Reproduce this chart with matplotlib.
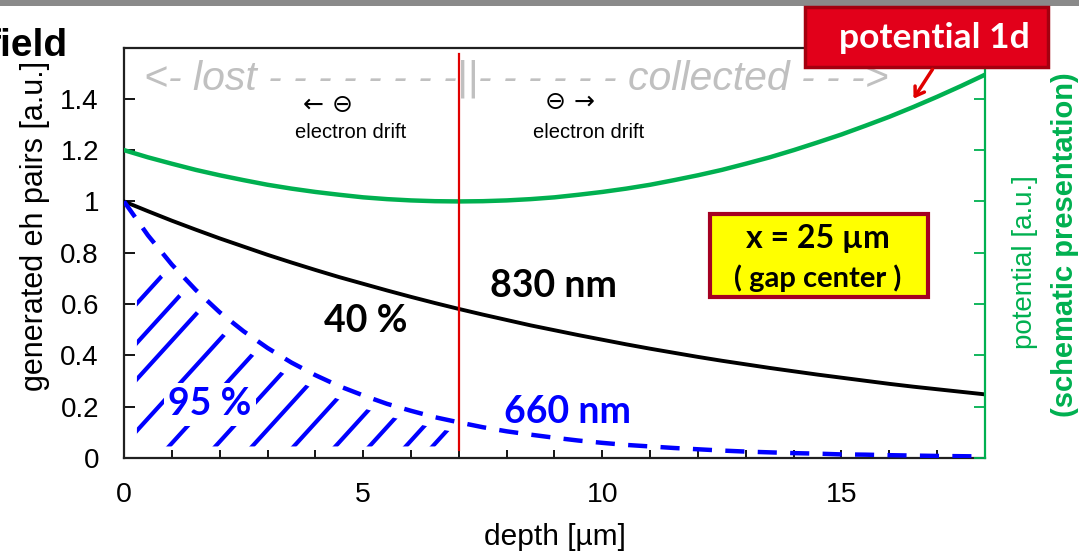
import numpy as np
import matplotlib
matplotlib.use("Agg")
import matplotlib.pyplot as plt
from matplotlib.patches import Polygon, Rectangle, FancyArrowPatch

# ---- data -------------------------------------------------------------
depth = np.arange(0.0, 18.01, 0.5)  # depth grid [um]

# generated eh pairs, 830 nm illumination (normalised)
pairs_830 = [1.000, 0.962, 0.925, 0.890, 0.856, 0.824, 0.792, 0.762, 0.733,
             0.705, 0.679, 0.653, 0.628, 0.604, 0.581, 0.559, 0.538, 0.517,
             0.498, 0.479, 0.461, 0.443, 0.426, 0.410, 0.394, 0.379, 0.365,
             0.351, 0.338, 0.325, 0.313, 0.301, 0.289, 0.278, 0.268, 0.258,
             0.248]

# generated eh pairs, 660 nm illumination (normalised)
pairs_660 = [1.000, 0.868, 0.754, 0.655, 0.568, 0.494, 0.429, 0.372, 0.323,
             0.280, 0.244, 0.211, 0.184, 0.159, 0.139, 0.120, 0.104, 0.091,
             0.079, 0.068, 0.059, 0.051, 0.045, 0.039, 0.034, 0.029, 0.025,
             0.022, 0.019, 0.017, 0.014, 0.013, 0.011, 0.0095, 0.008, 0.007,
             0.006]

# schematic 1d potential
potential_1d = [1.200, 1.172, 1.147, 1.123, 1.102, 1.083, 1.065, 1.050, 1.037,
                1.026, 1.016, 1.009, 1.004, 1.001, 1.000, 1.001, 1.004, 1.009,
                1.016, 1.026, 1.037, 1.050, 1.065, 1.083, 1.102, 1.123, 1.147,
                1.172, 1.200, 1.230, 1.261, 1.295, 1.330, 1.368, 1.408, 1.450,
                1.494]

gap_depth = 7.0               # boundary between lost and collected charge
x_ticks = [0, 5, 10, 15]
y_ticks = [0, 0.2, 0.4, 0.6, 0.8, 1.0, 1.2, 1.4]
label_830 = "830 nm"
label_660 = "660 nm"
frac_830 = "40 %"
frac_660 = "95 %"

# ---- style ------------------------------------------------------------
GREEN = "#00b050"
BLUE = "#0000ff"
RED = "#e00000"
GREY_TXT = "#c0c0c0"
ARIAL = ["Liberation Sans", "DejaVu Sans"]
BOLD = ["Lato", "DejaVu Sans"]

W, H = 1079, 553
fig = plt.figure(figsize=(W / 100, H / 100), dpi=100)


def fx(px):
    return px / W


def fy(py):
    return 1 - py / H


ax = fig.add_axes([fx(124), fy(458), fx(985) - fx(124), fy(47.5) - fy(458)])
ax.set_xlim(0, 18)
ax.set_ylim(0, 1.6)

# hatched region under the 660 nm curve, up to the gap
blue_arr = np.asarray(pairs_660)
hx = np.linspace(0.27, 6.9, 60)
htop = np.interp(hx, depth, blue_arr) * 0.92 - 0.03
clip_xy = np.vstack([np.column_stack([hx, htop]),
                     [[6.9, 0.045], [0.27, 0.045]]])
clip_poly = Polygon(clip_xy, closed=True, transform=ax.transData)
slope = 0.205
for x0 in [-2.67, -1.92, -1.23, -0.25, 0.72, 1.69, 2.46, 3.33, 4.2, 4.91,
           5.67, 6.23]:
    xs = np.array([x0 - 0.5, x0 + 6.0])
    ln, = ax.plot(xs, slope * (xs - x0), color=BLUE, lw=3.0,
                  solid_capstyle="butt", zorder=2)
    ln.set_clip_path(clip_poly)

# curves
ax.plot(depth, potential_1d, color=GREEN, lw=3.2, zorder=3)
ax.plot(depth, pairs_830, color="black", lw=2.8, zorder=3)
ax.plot(depth, pairs_660, color=BLUE, lw=3.2, dashes=(4.3, 3.0),
        dash_capstyle="butt", zorder=3)
ax.axvline(gap_depth, ymin=0.019, ymax=0.984, color=RED, lw=1.6, zorder=4)

# axes styling
for s in ("left", "bottom", "top"):
    ax.spines[s].set_linewidth(1.6)
    ax.spines[s].set_color("#202020")
ax.spines["right"].set_visible(False)

ax.set_xticks(x_ticks)
ax.set_xticks(range(0, 19), minor=True)
ax.set_xticklabels([f"{t:g}" for t in x_ticks], family=ARIAL, fontsize=20.5)
ax.set_yticks(y_ticks)
ax.set_yticklabels([f"{t:g}" for t in y_ticks], family=ARIAL, fontsize=20)
ax.tick_params(axis="x", which="both", direction="in", length=6, width=1.3,
               pad=17, top=False)
ax.tick_params(axis="y", direction="in", length=8, width=1.3, pad=18,
               right=False)

ax.set_xlabel("depth [µm]", family=ARIAL, fontsize=21.5)
ax.xaxis.set_label_coords(0.5006, -0.192)
ax.set_ylabel("generated eh pairs [a.u.]", family=ARIAL, fontsize=22)
ax.yaxis.set_label_coords(-0.103, 0.565)
ax.xaxis.label.set_va("center")
ax.yaxis.label.set_va("center")

# right axis for the potential
ax2 = ax.twinx()
ax2.set_ylim(0, 1.6)
ax2.set_yticks(y_ticks)
ax2.tick_params(axis="y", direction="in", length=8, width=1.3, colors=GREEN,
                labelright=False)
for s in ("left", "bottom", "top"):
    ax2.spines[s].set_visible(False)
ax2.spines["right"].set_color(GREEN)
ax2.spines["right"].set_linewidth(1.6)

# in-plot labels
ax.text(5.06, 0.491, frac_830, family=BOLD, weight="bold", fontsize=27,
        ha="center", va="baseline", color="black", zorder=5)
ax.text(8.97, 0.629, label_830, family=BOLD, weight="bold", fontsize=27,
        ha="center", va="baseline", color="black", zorder=5)
ax.text(9.28, 0.135, label_660, family=BOLD, weight="bold", fontsize=27,
        ha="center", va="baseline", color=BLUE, zorder=5)
ax.text(1.8, 0.21, frac_660, family=BOLD, weight="bold", fontsize=27,
        ha="center", va="center", color=BLUE, zorder=5,
        bbox=dict(boxstyle="square,pad=0.12", fc="white", ec="none"))

# lost / collected banner
fig.text(fx(144), fy(90), "<- lost - - - - - - - -||- - - - - - collected - - ->",
         family=ARIAL, style="italic", fontsize=29.5, color=GREY_TXT,
         ha="left", va="baseline")

# electron drift hints
fig.text(fx(328), fy(105), "← ⊖", family=["DejaVu Sans"], fontsize=18,
         ha="center", va="center", color="black")
fig.text(fx(351), fy(133), "electron drift", family=ARIAL, fontsize=14.5,
         ha="center", va="center", color="black")
fig.text(fx(570), fy(102), "⊖ →", family=["DejaVu Sans"], fontsize=18,
         ha="center", va="center", color="black")
fig.text(fx(589), fy(132), "electron drift", family=ARIAL, fontsize=14.5,
         ha="center", va="center", color="black")

# right axis titles
fig.text(fx(1025), fy(262), "potential [a.u.]", family=ARIAL, fontsize=20,
         rotation=90, ha="center", va="center", color=GREEN)
fig.text(fx(1065), fy(245), "(schematic presentation)", family=ARIAL,
         weight="bold", fontsize=21, rotation=90, ha="center", va="center",
         color=GREEN)

# header band and cut title
fig.patches.append(Rectangle((0, fy(6)), 1, 1 - fy(6), transform=fig.transFigure,
                             fc="#8a8a8a", ec="none", zorder=0))
fig.text(fx(68), fy(56), "field", family=ARIAL, weight="bold", fontsize=28,
         ha="right", va="baseline", color="black")

# "potential 1d" call-out
fig.patches.append(Rectangle((fx(805), fy(67)), fx(1048) - fx(805),
                             fy(7) - fy(67), transform=fig.transFigure,
                             fc="#e2001a", ec="#a4000f", lw=2.5, zorder=6))
fig.text(fx(934), fy(38), "potential 1d", family=BOLD, weight="bold",
         fontsize=25.5, ha="center", va="center", color="white", zorder=7)
fig.add_artist(FancyArrowPatch(
    (fx(934), fy(67)), (fx(912), fy(101)), transform=fig.transFigure,
    arrowstyle="->,head_length=6,head_width=4", color=RED, lw=2.5, zorder=7))

# gap position box
fig.patches.append(Rectangle((fx(710), fy(297)), fx(928) - fx(710),
                             fy(214) - fy(297), transform=fig.transFigure,
                             fc="#ffff00", ec="#a50021", lw=3.0, zorder=6))
fig.text(fx(818), fy(248), "x = 25 µm", family=BOLD, weight="bold",
         fontsize=23, ha="center", va="baseline", color="black", zorder=7)
fig.text(fx(818), fy(287), "( gap center )", family=BOLD, weight="bold",
         fontsize=21, ha="center", va="baseline", color="black", zorder=7)

fig.savefig("out.png", dpi=100)
